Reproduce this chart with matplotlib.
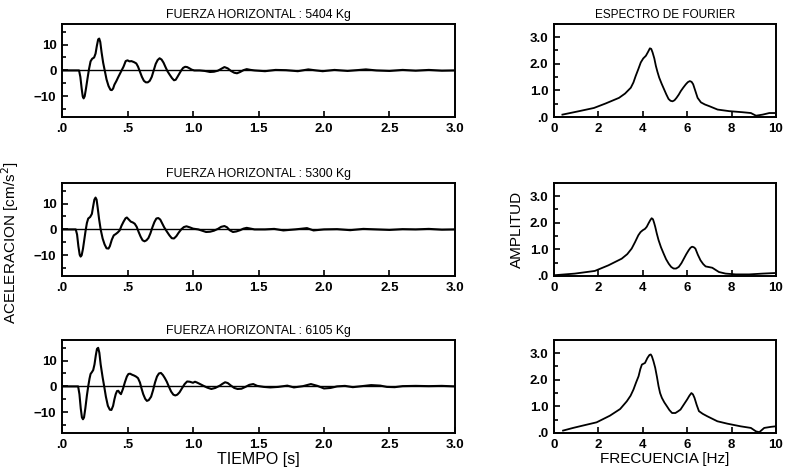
import matplotlib

matplotlib.use("Agg")
import matplotlib.pyplot as plt
from matplotlib.ticker import FixedLocator, MultipleLocator

plt.rcParams["font.family"] = ["Liberation Sans", "DejaVu Sans"]

# Time histories: acceleration [cm/s2] vs time [s]
t_5404 = [0.0, 0.13, 0.14, 0.15, 0.158, 0.165, 0.173, 0.183, 0.195, 0.206, 0.218, 0.23,
          0.245, 0.256, 0.266, 0.276, 0.284, 0.292, 0.302, 0.314, 0.326, 0.34, 0.355,
          0.37, 0.38, 0.39, 0.40, 0.415, 0.43, 0.45, 0.47, 0.486, 0.50, 0.515, 0.53,
          0.55, 0.567, 0.58, 0.595, 0.61, 0.625, 0.64, 0.655, 0.67, 0.685, 0.70, 0.715,
          0.73, 0.745, 0.76, 0.775, 0.79, 0.805, 0.82, 0.84, 0.855, 0.868, 0.88, 0.895,
          0.91, 0.925, 0.94, 0.955, 0.97, 0.99, 1.01, 1.05, 1.09, 1.13, 1.16, 1.19,
          1.215, 1.24, 1.265, 1.29, 1.315, 1.336, 1.36, 1.385, 1.41, 1.44, 1.47, 1.55,
          1.63, 1.71, 1.80, 1.88, 1.94, 1.99, 2.08, 2.18, 2.25, 2.32, 2.40, 2.50, 2.60,
          2.70, 2.80, 2.90, 3.0]
a_5404 = [0.0, 0.0, -2.5, -7.0, -10.0, -10.8, -10.0, -7.0, -3.0, 0.5, 3.5, 4.5,
          5.0, 6.5, 9.5, 12.0, 12.3, 11.0, 7.0, 3.0, 0.0, -3.5, -6.0,
          -7.5, -7.6, -7.0, -5.5, -4.1, -2.5, -0.5, 1.5, 3.6, 3.9, 3.5, 3.6,
          3.2, 2.7, 1.5, -0.5, -2.5, -4.0, -4.6, -4.6, -4.0, -2.5, 0.0, 2.5,
          4.0, 4.7, 4.2, 3.0, 1.3, -0.3, -1.5, -3.0, -3.8, -3.6, -2.6, -1.3,
          0.0, 1.0, 1.4, 1.3, 0.9, 0.3, 0.0, 0.0, -0.2, -0.6, -0.5, -0.1,
          0.6, 1.3, 0.8, -0.2, -0.9, -1.1, -0.6, 0.1, 0.5, 0.2, 0.0, -0.3,
          0.2, 0.1, -0.3, 0.4, 0.0, -0.3, 0.2, -0.2, 0.1, 0.4, 0.0, -0.2, 0.2,
          -0.1, 0.2, -0.1, 0.0]

t_5300 = [0.0, 0.105, 0.115, 0.125, 0.135, 0.142, 0.15, 0.16, 0.17, 0.18, 0.19, 0.20,
          0.215, 0.228, 0.238, 0.247, 0.256, 0.264, 0.272, 0.283, 0.295, 0.31, 0.325,
          0.34, 0.355, 0.365, 0.38, 0.395, 0.41, 0.425, 0.44, 0.455, 0.47, 0.485, 0.495,
          0.51, 0.525, 0.54, 0.555, 0.57, 0.585, 0.60, 0.615, 0.63, 0.645, 0.66, 0.675,
          0.69, 0.705, 0.72, 0.735, 0.75, 0.765, 0.78, 0.80, 0.82, 0.838, 0.855, 0.873,
          0.89, 0.91, 0.93, 0.95, 0.975, 1.0, 1.04, 1.07, 1.10, 1.13, 1.16, 1.19, 1.215,
          1.24, 1.26, 1.28, 1.305, 1.33, 1.36, 1.385, 1.41, 1.44, 1.47, 1.55, 1.62,
          1.69, 1.78, 1.87, 1.92, 2.0, 2.10, 2.20, 2.30, 2.40, 2.50, 2.60, 2.70, 2.80,
          2.90, 3.0]
a_5300 = [0.0, 0.0, -2.0, -6.5, -9.8, -10.5, -10.0, -7.5, -4.0, -0.5, 2.5, 4.2,
          4.8, 6.0, 9.0, 11.5, 12.3, 11.5, 8.5, 4.0, 0.0, -3.5, -5.8,
          -7.3, -7.4, -6.5, -4.0, -2.3, -1.8, -1.2, -0.4, 1.5, 3.0, 4.3, 4.6,
          3.8, 3.0, 2.7, 2.2, 1.0, -1.0, -2.8, -4.2, -4.6, -4.2, -3.3, -1.5,
          0.8, 2.8, 4.2, 4.4, 3.8, 2.3, 0.8, -0.8, -2.3, -3.4, -3.5, -2.6,
          -1.3, 0.0, 0.9, 1.2, 0.8, 0.3, 0.0, -0.5, -1.0, -0.9, -0.5, 0.2, 1.0,
          1.3, 0.8, -0.3, -1.0, -0.8, -0.3, 0.3, 0.6, 0.3, 0.0, 0.0, 0.2,
          -0.4, 0.0, 0.5, -0.4, 0.0, 0.1, -0.3, 0.2, 0.0, -0.2, 0.1, 0.0, 0.2,
          -0.1, 0.0]

t_6105 = [0.0, 0.123, 0.133, 0.143, 0.152, 0.16, 0.168, 0.178, 0.19, 0.20, 0.21, 0.218,
          0.228, 0.238, 0.248, 0.258, 0.267, 0.276, 0.285, 0.295, 0.31, 0.322, 0.335,
          0.35, 0.365, 0.377, 0.39, 0.40, 0.41, 0.42, 0.43, 0.44, 0.45, 0.465, 0.48,
          0.495, 0.507, 0.52, 0.535, 0.55, 0.565, 0.58, 0.595, 0.607, 0.62, 0.635,
          0.648, 0.662, 0.68, 0.695, 0.71, 0.725, 0.74, 0.755, 0.77, 0.785, 0.80,
          0.815, 0.833, 0.85, 0.865, 0.88, 0.897, 0.915, 0.936, 0.955, 0.975, 1.0,
          1.015, 1.03, 1.05, 1.077, 1.11, 1.14, 1.17, 1.205, 1.225, 1.245, 1.265, 1.29,
          1.315, 1.34, 1.37, 1.40, 1.43, 1.46, 1.49, 1.54, 1.59, 1.65, 1.72, 1.77,
          1.84, 1.90, 1.95, 2.0, 2.05, 2.10, 2.16, 2.22, 2.29, 2.36, 2.43, 2.48, 2.54,
          2.60, 2.70, 2.80, 2.90, 3.0]
a_6105 = [0.0, 0.0, -3.0, -8.5, -12.0, -12.7, -12.0, -8.5, -3.5, 0.0, 3.0, 4.8,
          5.5, 6.3, 8.5, 12.0, 14.5, 14.9, 13.0, 8.5, 3.5, 0.0, -4.0,
          -7.5, -9.0, -9.1, -7.5, -5.0, -3.0, -1.8, -1.7, -2.5, -3.0, -1.0, 1.6,
          3.8, 4.8, 4.9, 4.5, 4.2, 3.8, 3.2, 1.5, -0.8, -3.0, -4.8,
          -5.6, -5.3, -4.0, -1.5, 1.5, 3.8, 5.0, 5.2, 4.4, 3.2, 1.8,
          0.0, -2.0, -3.2, -3.5, -3.2, -2.3, -0.8, 0.9, 1.9, 1.8, 1.4,
          1.8, 1.5, 1.0, 0.3, -0.5, -1.0, -0.6, 0.3, 1.0, 1.6, 1.3, 0.3,
          -0.6, -1.0, -0.9, -0.2, 0.6, 0.9, 0.2, -0.2, -0.4, -0.2, 0.3, -0.4,
          0.1, 0.9, 0.2, -0.8, -0.6, 0.0, 0.2, -0.3, 0.1, 0.5, 0.3, -0.2, -0.3,
          0.1, 0.2, 0.1, 0.2, 0.0]

# Fourier spectra: amplitude vs frequency [Hz]
f_5404 = [0.38, 1.13, 1.8, 2.33, 2.93, 3.2, 3.46, 3.58, 3.68, 3.8, 3.91, 4.02, 4.14,
          4.24, 4.32, 4.38, 4.44, 4.52, 4.59, 4.66, 4.74, 4.85, 4.96, 5.06, 5.16, 5.25,
          5.34, 5.43, 5.52, 5.62, 5.71, 5.82, 5.94, 6.03, 6.12, 6.2, 6.27, 6.36, 6.47,
          6.62, 6.8, 6.99, 7.37, 7.9, 8.5, 8.87, 9.1, 9.4, 9.7, 9.97]
s_5404 = [0.09, 0.22, 0.34, 0.51, 0.72, 0.88, 1.1, 1.3, 1.54, 1.8, 2.05, 2.2, 2.3,
          2.45, 2.58, 2.56, 2.43, 2.2, 1.92, 1.7, 1.48, 1.25, 1.04, 0.85, 0.68, 0.61,
          0.59, 0.63, 0.72, 0.84, 0.97, 1.1, 1.23, 1.31, 1.35, 1.32, 1.23, 1.0, 0.72,
          0.55, 0.47, 0.41, 0.28, 0.22, 0.18, 0.15, 0.05, 0.09, 0.15, 0.15]

f_5300 = [0.03, 0.94, 1.84, 2.45, 3.05, 3.3, 3.5, 3.65, 3.8, 3.9, 4.0, 4.1, 4.18, 4.26,
          4.34, 4.4, 4.46, 4.51, 4.56, 4.63, 4.71, 4.82, 4.94, 5.05, 5.17, 5.28, 5.39,
          5.5, 5.62, 5.74, 5.85, 5.96, 6.07, 6.15, 6.22, 6.3, 6.37, 6.48, 6.6, 6.72,
          6.83, 7.13, 7.43, 7.73, 8.19, 8.79, 9.4, 9.92]
s_5300 = [0.03, 0.09, 0.19, 0.4, 0.65, 0.82, 1.03, 1.27, 1.53, 1.65, 1.72, 1.77, 1.85,
          1.98, 2.1, 2.17, 2.13, 2.0, 1.85, 1.6, 1.35, 1.08, 0.84, 0.63, 0.46, 0.34,
          0.28, 0.28, 0.34, 0.48, 0.65, 0.82, 0.97, 1.06, 1.1, 1.08, 1.03, 0.8, 0.59,
          0.45, 0.36, 0.31, 0.15, 0.09, 0.06, 0.06, 0.09, 0.11]

f_6105 = [0.41, 0.86, 1.31, 1.92, 2.52, 2.98, 3.28, 3.45, 3.58, 3.7, 3.81, 3.89, 3.96,
          4.1, 4.21, 4.3, 4.36, 4.41, 4.48, 4.56, 4.64, 4.71, 4.78, 4.86, 4.97, 5.09,
          5.2, 5.32, 5.47, 5.6, 5.7, 5.85, 6.0, 6.1, 6.19, 6.26, 6.33, 6.43, 6.53, 6.7,
          6.9, 7.36, 7.81, 8.41, 8.87, 9.1, 9.25, 9.47, 9.77, 9.98]
s_6105 = [0.09, 0.19, 0.28, 0.4, 0.65, 0.9, 1.19, 1.4, 1.63, 1.9, 2.13, 2.4, 2.57,
          2.63, 2.82, 2.93, 2.95, 2.88, 2.7, 2.45, 2.1, 1.76, 1.5, 1.32, 1.15, 1.0,
          0.86, 0.75, 0.75, 0.82, 0.88, 1.07, 1.26, 1.4, 1.5, 1.45, 1.32, 1.05, 0.82,
          0.72, 0.63, 0.44, 0.35, 0.25, 0.19, 0.06, 0.03, 0.19, 0.23, 0.25]

forces = ["5404", "5300", "6105"]
time_x = [t_5404, t_5300, t_6105]
time_y = [a_5404, a_5300, a_6105]
freq_x = [f_5404, f_5300, f_6105]
freq_y = [s_5404, s_5300, s_6105]

row_bottoms = [0.7526, 0.4165, 0.0846]
row_h = 0.197

fig = plt.figure(figsize=(7.85, 4.73), dpi=100)


def style_axes(ax):
    for sp in ax.spines.values():
        sp.set_linewidth(1.4)
    ax.tick_params(which="both", direction="in", top=False, right=False,
                   width=1.2, labelsize=9.5, pad=4)
    ax.tick_params(which="major", length=4)
    ax.tick_params(which="minor", length=3)
    for lab in ax.get_xticklabels() + ax.get_yticklabels():
        lab.set_fontweight("bold")


for i in range(3):
    # time history
    ax = fig.add_axes([0.079, row_bottoms[i], 0.5006, row_h])
    ax.plot(time_x[i], time_y[i], color="black", lw=1.5)
    ax.axhline(0, color="black", lw=1.0)
    ax.set_xlim(0, 3.0)
    ax.set_ylim(-18, 18)
    ax.set_xticks([0, 0.5, 1.0, 1.5, 2.0, 2.5, 3.0])
    ax.set_xticklabels([".0", ".5", "1.0", "1.5", "2.0", "2.5", "3.0"])
    ax.set_yticks([-10, 0, 10])
    ax.set_yticklabels(["\u221210", "0", "10"])
    ax.yaxis.set_minor_locator(FixedLocator([-15, -5, 5, 15]))
    ax.set_title(f"FUERZA HORIZONTAL : {forces[i]} Kg", fontsize=8.8, pad=4)
    style_axes(ax)
    if i == 2:
        ax.set_xlabel("TIEMPO [s]", fontsize=11.5, labelpad=1)

    # spectrum
    ax2 = fig.add_axes([0.7057, row_bottoms[i], 0.2828, row_h])
    ax2.plot(freq_x[i], freq_y[i], color="black", lw=1.3)
    ax2.set_xlim(0, 10)
    ax2.set_ylim(0, 3.5)
    ax2.set_xticks([0, 2, 4, 6, 8, 10])
    ax2.set_yticks([0, 1, 2, 3])
    ax2.set_yticklabels([".0", "1.0", "2.0", "3.0"])
    ax2.yaxis.set_minor_locator(MultipleLocator(0.5))
    style_axes(ax2)
    if i == 0:
        ax2.set_title("ESPECTRO DE FOURIER", fontsize=8.5, pad=4)
    if i == 1:
        ax2.set_ylabel("AMPLITUD", fontsize=11, labelpad=4)
    if i == 2:
        ax2.set_xlabel("FRECUENCIA [Hz]", fontsize=11, labelpad=1)

fig.text(0.013, 0.487, "ACELERACION [cm/s$^2$]", rotation=90, fontsize=11,
         ha="center", va="center")

fig.savefig("out.png", dpi=100)
